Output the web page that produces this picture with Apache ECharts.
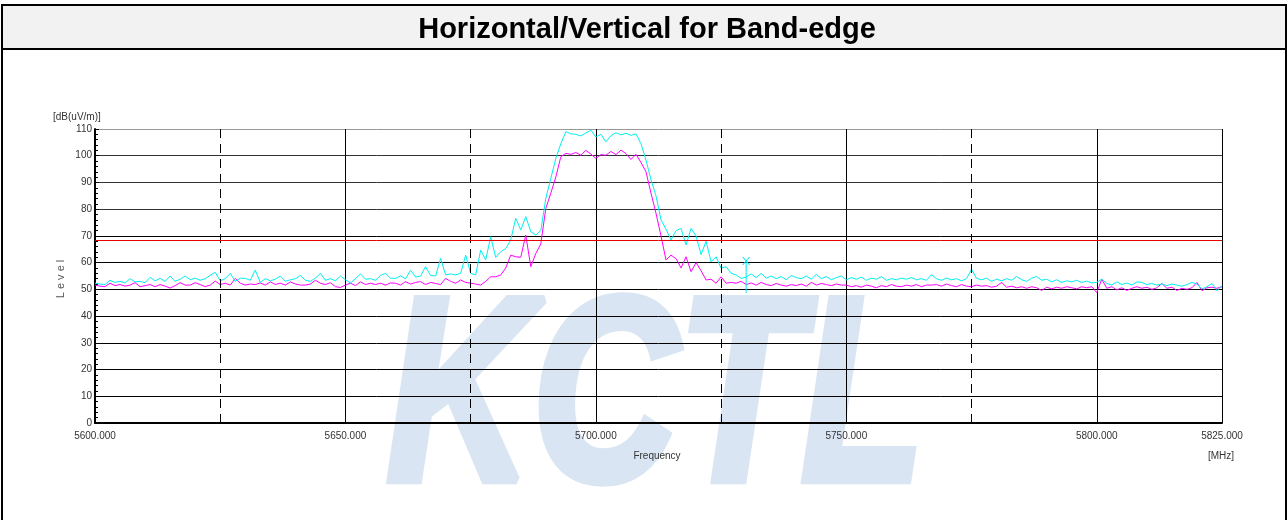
<!DOCTYPE html>
<html>
<head>
<meta charset="utf-8">
<script src="https://cdn.jsdelivr.net/npm/echarts@6/dist/echarts.min.js"></script>
<style>
html,body{margin:0;padding:0;background:#fff;}
#chart{width:1288px;height:520px;}
</style>
</head>
<body>
<div id="chart"></div>
<script>
// ---- data ----
const titleText = 'Horizontal/Vertical for Band-edge';
const freqStart = 5600;   // MHz, first sample
const freqStep = 1;       // MHz between samples
const xTickFreqs = [5600, 5650, 5700, 5750, 5800, 5825];
const dashedFreqs = [5625, 5675, 5725, 5775];
const limitLevel = 68.2;  // dB(uV/m)
const markerFreq = 5730;
const markerTop = 61.0;
const markerBottom = 48.6;

// Horizontal (cyan) 5600..5825 MHz
const horizontal = [
  52.3,52.0,51.8,53.4,52.6,53.0,52.4,54.0,52.8,53.0,
  52.5,54.5,53.2,54.1,53.0,55.0,53.0,53.8,55.0,53.6,
  54.2,53.4,54.0,55.2,56.4,53.2,54.0,56.0,53.0,54.2,
  54.1,53.4,57.2,52.6,54.0,53.2,53.8,55.0,53.0,53.6,
  54.0,55.2,53.4,53.0,54.2,56.0,53.4,54.0,53.2,55.0,
  53.6,52.4,54.0,55.8,53.8,54.0,53.4,55.2,56.0,54.2,
  54.1,55.0,54.0,57.2,54.6,55.0,58.5,55.2,55.0,61.6,
  55.4,55.8,55.4,56.0,62.8,56.0,55.4,64.7,61.0,69.7,
  62.0,64.1,65.3,68.5,76.6,72.2,77.2,71.6,70.3,72.0,
  84.0,91.5,99.0,104.5,109.0,108.2,108.0,107.4,108.5,109.6,
  107.0,108.0,105.2,107.5,108.6,107.8,108.4,107.6,108.2,104.5,
  98.4,91.0,85.0,76.0,72.5,68.5,72.0,72.8,66.6,72.8,
  70.0,63.0,68.0,60.3,62.2,57.9,58.5,56.0,55.4,54.1,
  54.6,55.8,54.4,56.0,54.2,55.0,54.0,54.8,53.6,55.2,
  54.4,54.0,55.0,53.8,55.6,54.0,54.8,53.6,54.4,55.0,
  53.6,54.4,53.8,54.6,53.4,54.2,53.8,54.8,53.4,54.0,
  53.6,54.2,53.8,54.4,53.6,54.0,53.4,55.5,54.0,53.4,
  54.2,53.6,54.0,53.2,54.0,57.5,54.1,53.6,54.2,53.0,
  53.8,53.2,54.0,53.4,54.8,53.6,53.0,54.2,54.8,53.4,
  53.8,52.8,53.6,52.6,53.2,52.8,53.4,52.6,53.1,52.4,
  52.6,53.8,52.2,51.6,52.8,51.8,52.4,51.6,52.8,52.6,
  51.8,52.2,51.6,52.0,51.4,52.0,51.6,51.2,51.8,52.6,
  52.0,50.2,51.0,52.2,49.5,51.5
];

// Vertical (magenta) 5600..5825 MHz
const vertical = [
  51.6,51.2,51.0,52.3,51.4,51.8,51.2,51.6,52.5,51.0,
  51.4,51.8,51.0,51.8,51.2,50.5,51.4,52.5,51.6,51.6,
  52.5,51.8,51.0,51.6,53.1,51.8,52.3,51.6,54.1,52.3,
  51.6,52.0,51.8,52.4,51.6,52.8,51.8,52.3,51.6,52.8,
  52.0,51.6,51.6,52.0,53.4,52.3,51.8,52.5,51.0,50.7,
  51.6,52.3,51.4,52.8,51.8,52.3,51.8,52.3,51.6,52.4,
  52.3,51.6,52.9,52.0,52.6,52.9,51.8,52.6,52.2,51.8,
  54.1,53.0,52.3,53.5,52.6,52.3,52.0,51.6,53.0,54.7,
  54.7,55.4,58.0,62.8,62.2,62.0,70.3,58.5,63.4,67.0,
  80.3,86.0,92.0,99.6,100.9,100.5,101.2,100.2,102.0,100.6,
  99.0,100.4,100.2,101.6,100.4,102.1,100.8,98.6,100.5,97.5,
  94.0,86.0,78.5,70.0,61.0,62.8,61.5,58.0,62.2,56.6,
  60.0,57.0,53.5,53.8,52.3,54.7,52.3,52.6,52.3,53.0,
  51.8,52.4,51.6,52.6,51.8,51.4,52.2,51.6,51.2,51.8,
  51.4,52.0,51.2,52.6,51.6,52.2,51.8,51.4,52.0,51.6,
  51.6,51.0,51.4,50.8,51.6,51.2,50.6,51.4,51.0,51.8,
  51.2,51.0,51.6,51.2,51.8,51.0,51.6,51.6,51.8,51.2,
  52.0,51.4,51.0,51.8,51.2,51.0,51.6,51.2,51.4,50.8,
  51.2,52.6,50.8,51.2,50.6,51.0,50.4,51.0,50.6,49.6,
  50.8,50.2,50.8,50.4,51.0,50.6,50.2,51.0,50.6,51.0,
  48.8,53.8,50.4,51.0,49.8,50.6,49.6,50.4,51.0,50.4,
  50.8,50.0,50.6,52.2,50.4,50.8,49.6,50.4,50.0,50.6,
  52.6,49.5,50.6,50.8,50.4,51.0
];

// ---- chart ----
const toPairs = arr => arr.map((v, i) => [freqStart + i * freqStep, v]);
const narrow = "'Liberation Sans Narrow','Arial Narrow','Liberation Sans',Arial,sans-serif";
const xMark = 'path://M0,0L1.4,0L5,4.2L8.6,0L10,0L5.7,5L10,10L8.6,10L5,5.8L1.4,10L0,10L4.3,5Z';

const chart = echarts.init(document.getElementById('chart'), null, {renderer: 'canvas'});
const ySplitColors = ['#000','#000','#000','#000','#000','#000','#000','#000','#333','#333','#333','#999'];

chart.setOption({
  animation: false,
  backgroundColor: '#ffffff',
  grid: {left: 95, right: 66, top: 129, bottom: 97, containLabel: false},
  graphic: [
    {type: 'text', z: -10, zlevel: 0, silent: true, left: 383, top: 272, scaleX: 0.77,
      style: {text: 'KCTL', font: 'italic bold 262px "Liberation Sans", Arial, sans-serif',
        fill: '#d9e5f2', stroke: '#d9e5f2', lineWidth: 9, lineJoin: 'round'}},
    {type: 'rect', z: 5, silent: true, shape: {x: 2, y: 5, width: 1284, height: 44},
      style: {fill: '#f2f2f2', stroke: '#000', lineWidth: 2}},
    {type: 'text', z: 6, silent: true, x: 647, y: 30,
      style: {text: titleText, font: 'bold 29px "Liberation Sans", Arial, sans-serif', fill: '#000', align: 'center', verticalAlign: 'middle'}},
    {type: 'line', z: 5, silent: true, shape: {x1: 2, y1: 5, x2: 2, y2: 520}, style: {stroke: '#000', lineWidth: 2}},
    {type: 'line', z: 5, silent: true, shape: {x1: 1286, y1: 5, x2: 1286, y2: 520}, style: {stroke: '#000', lineWidth: 2}},
    {type: 'text', silent: true, x: 53, y: 117,
      style: {text: '[dB(uV/m)]', font: '10px ' + narrow, fill: '#333', verticalAlign: 'middle'}},
    {type: 'text', silent: true, x: 61, y: 279, rotation: Math.PI / 2,
      style: {text: 'L e v e l', font: '11px ' + narrow, fill: '#555', align: 'center', verticalAlign: 'middle'}},
    {type: 'text', silent: true, x: 657, y: 456,
      style: {text: 'Frequency', font: '10px ' + narrow, fill: '#333', align: 'center', verticalAlign: 'middle'}},
    {type: 'text', silent: true, x: 1221, y: 456,
      style: {text: '[MHz]', font: '10px ' + narrow, fill: '#333', align: 'center', verticalAlign: 'middle'}}
  ],
  xAxis: {
    type: 'value', min: 5600, max: 5825, interval: 50,
    axisLine: {show: true, onZero: false, lineStyle: {color: '#000', width: 2}},
    axisTick: {show: false},
    splitLine: {show: true, lineStyle: {color: '#000', width: 1}},
    axisLabel: {
      color: '#333', fontSize: 10, fontFamily: narrow, margin: 8,
      showMinLabel: true, showMaxLabel: true,
      customValues: xTickFreqs,
      formatter: v => Number(v).toFixed(3)
    }
  },
  yAxis: {
    type: 'value', min: 0, max: 110, interval: 10,
    axisLine: {show: true, lineStyle: {color: '#000', width: 2}},
    axisTick: {show: true, inside: true, length: 4, lineStyle: {color: '#000'}},
    minorTick: {show: true, splitNumber: 5, length: 3, lineStyle: {color: '#000'}},
    splitLine: {show: true, lineStyle: {color: ySplitColors, width: 1}},
    axisLabel: {color: '#333', fontSize: 10, fontFamily: narrow, margin: 3}
  },
  series: [
    {
      name: 'Vertical', type: 'line', data: toPairs(vertical), showSymbol: false, symbol: 'none',
      lineStyle: {color: '#ff00ff', width: 1}, z: 3,
      markLine: {
        silent: true, symbol: 'none', label: {show: false}, animation: false,
        data: dashedFreqs.map(f => ({xAxis: f, lineStyle: {color: '#000', width: 1, type: [9, 6]}}))
          .concat([{yAxis: limitLevel, lineStyle: {color: '#e60000', width: 1, type: 'solid'}}])
      }
    },
    {
      name: 'Horizontal', type: 'line', data: toPairs(horizontal), showSymbol: false, symbol: 'none',
      lineStyle: {color: '#00f0f0', width: 1}, z: 4
    },
    {
      name: 'Marker', type: 'line', z: 5, showSymbol: true,
      lineStyle: {color: '#00e8f0', width: 1},
      itemStyle: {color: '#00e8f0'},
      data: [
        {value: [markerFreq, markerTop], symbol: xMark, symbolSize: [8, 8], symbolOffset: [0, 1]},
        {value: [markerFreq, markerBottom], symbol: 'none'}
      ]
    }
  ]
});
</script>
</body>
</html>
